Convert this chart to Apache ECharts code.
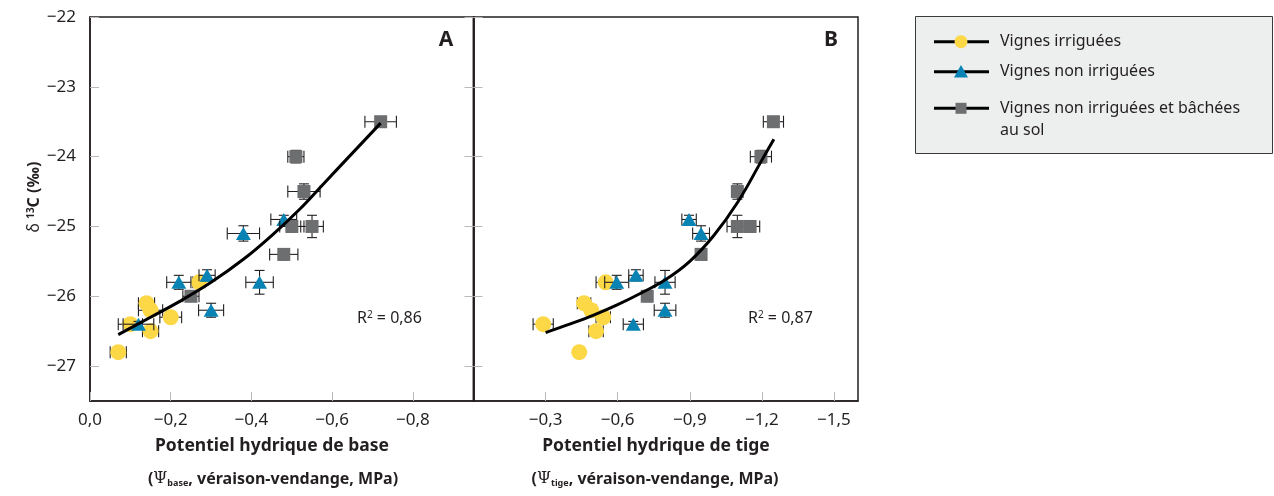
<!DOCTYPE html>
<html><head><meta charset="utf-8">
<script src="https://cdn.jsdelivr.net/npm/echarts@6/dist/echarts.min.js"></script>
<style>html,body{margin:0;padding:0;background:#fff}#c{width:1274px;height:496px}</style>
</head><body><div id="c"></div>
<script>
// ---- tick values ----
const yTicks = [-22, -23, -24, -25, -26, -27];
const xTicksBase = [0, -0.2, -0.4, -0.6, -0.8];
const xTicksTige = [-0.3, -0.6, -0.9, -1.2, -1.5];

// ---- series names ----
const names = ['Vignes irriguées', 'Vignes non irriguées', 'Vignes non irriguées et bâchées au sol'];

// ---- Vignes irriguées ----
const yIrr        = [-26.8, -26.4, -26.1, -26.2, -26.5, -26.3, -25.8];
const yErrIrr     = [0.02, 0.03, 0.05, 0.02, 0.04, 0.02, 0.03];
const xBaseIrr    = [-0.07, -0.10, -0.14, -0.15, -0.15, -0.20, -0.27];
const xErrBaseIrr = [0.02, 0.03, 0.02, 0.03, 0.02, 0.027, 0.015];
const xTigeIrr    = [-0.44, -0.29, -0.46, -0.49, -0.51, -0.54, -0.55];
const xErrTigeIrr = [0.01, 0.042, 0.028, 0.02, 0.03, 0.03, 0.04];

// ---- Vignes non irriguées ----
const yNon        = [-26.4, -25.8, -25.7, -26.2, -25.1, -25.8, -24.9];
const yErrNon     = [0.04, 0.10, 0.08, 0.10, 0.11, 0.17, 0.06];
const xBaseNon    = [-0.12, -0.22, -0.29, -0.30, -0.38, -0.42, -0.48];
const xErrBaseNon = [0.038, 0.03, 0.02, 0.031, 0.04, 0.034, 0.032];
const xTigeNon    = [-0.665, -0.596, -0.676, -0.797, -0.947, -0.797, -0.897];
const xErrTigeNon = [0.042, 0.05, 0.03, 0.045, 0.035, 0.042, 0.03];

// ---- Vignes non irriguées et bâchées ----
const yBac        = [-26.0, -25.4, -25.0, -25.0, -24.5, -24.0, -23.5];
const yErrBac     = [0.04, 0.08, 0.08, 0.16, 0.11, 0.09, 0.05];
const xBaseBac    = [-0.25, -0.48, -0.50, -0.55, -0.53, -0.51, -0.72];
const xErrBaseBac = [0.02, 0.035, 0.03, 0.028, 0.04, 0.02, 0.039];
const xTigeBac    = [-0.723, -0.947, -1.151, -1.098, -1.098, -1.196, -1.248];
const xErrTigeBac = [0.01, 0.02, 0.04, 0.043, 0.02, 0.044, 0.042];

// ---- fitted curves ----
const curveBaseX = [-0.07, -0.15, -0.22, -0.30, -0.38, -0.45, -0.52, -0.58, -0.65, -0.72];
const curveBaseY = [-26.55, -26.30, -26.08, -25.80, -25.47, -25.13, -24.75, -24.38, -23.95, -23.52];
const curveTigeX = [-0.30, -0.40, -0.50, -0.60, -0.70, -0.80, -0.90, -1.00, -1.10, -1.20, -1.25];
const curveTigeY = [-26.52, -26.40, -26.27, -26.12, -25.95, -25.76, -25.50, -25.13, -24.65, -24.05, -23.75];

const r2Base = '0,86', r2Tige = '0,87';

const FONT = "'Noto Sans', sans-serif";
const INK = '#231f20';
const colors = ['#FDD846', '#0983B3', '#6D6E70'];
const symbols = ['circle', 'triangle', 'rect'];
const sizes = [16, [15, 13], 13];

const groups = [
  {y: yIrr, ey: yErrIrr, xb: xBaseIrr, exb: xErrBaseIrr, xt: xTigeIrr, ext: xErrTigeIrr},
  {y: yNon, ey: yErrNon, xb: xBaseNon, exb: xErrBaseNon, xt: xTigeNon, ext: xErrTigeNon},
  {y: yBac, ey: yErrBac, xb: xBaseBac, exb: xErrBaseBac, xt: xTigeBac, ext: xErrTigeBac}
];

function errItem(params, api) {
  const x = api.value(0), y = api.value(1), ex = api.value(2), ey = api.value(3);
  const st = {stroke: INK, lineWidth: 1.1, fill: null};
  const ch = [];
  if (ex > 0) {
    const a = api.coord([x - ex, y]), b = api.coord([x + ex, y]);
    ch.push({type: 'line', shape: {x1: a[0], y1: a[1], x2: b[0], y2: b[1]}, style: st});
    ch.push({type: 'line', shape: {x1: a[0], y1: a[1] - 6, x2: a[0], y2: a[1] + 6}, style: st});
    ch.push({type: 'line', shape: {x1: b[0], y1: b[1] - 6, x2: b[0], y2: b[1] + 6}, style: st});
  }
  if (ey > 0) {
    const a = api.coord([x, y - ey]), b = api.coord([x, y + ey]);
    ch.push({type: 'line', shape: {x1: a[0], y1: a[1], x2: b[0], y2: b[1]}, style: st});
    ch.push({type: 'line', shape: {x1: a[0] - 5, y1: a[1], x2: a[0] + 5, y2: a[1]}, style: st});
    ch.push({type: 'line', shape: {x1: b[0] - 5, y1: b[1], x2: b[0] + 5, y2: b[1]}, style: st});
  }
  return {type: 'group', children: ch};
}

const series = [];
[0, 1].forEach(p => {
  groups.forEach((g, gi) => {
    const xs = p === 0 ? g.xb : g.xt;
    const exs = p === 0 ? g.exb : g.ext;
    series.push({
      type: 'custom', name: names[gi] + ' (err)', xAxisIndex: p, yAxisIndex: p, z: 2 + gi * 2,
      renderItem: errItem, encode: {x: 0, y: 1}, silent: true,
      data: xs.map((x, i) => [x, g.y[i], exs[i], g.ey[i]])
    });
    series.push({
      type: 'scatter', name: names[gi], xAxisIndex: p, yAxisIndex: p, z: 3 + gi * 2,
      symbol: symbols[gi], symbolSize: sizes[gi],
      itemStyle: {color: colors[gi], opacity: 1},
      data: xs.map((x, i) => [x, g.y[i]])
    });
  });
});
series.push({
  type: 'line', name: 'fit base', xAxisIndex: 0, yAxisIndex: 0, z: 10, smooth: 0.4, showSymbol: false,
  lineStyle: {color: '#000', width: 3}, data: curveBaseX.map((x, i) => [x, curveBaseY[i]])
});
series.push({
  type: 'line', name: 'fit tige', xAxisIndex: 1, yAxisIndex: 1, z: 10, smooth: 0.4, showSymbol: false,
  lineStyle: {color: '#000', width: 3}, data: curveTigeX.map((x, i) => [x, curveTigeY[i]])
});

function fmtX(v) {
  if (Math.abs(v) < 1e-9) return '0,0';
  return '\u2212' + Math.abs(v).toFixed(1).replace('.', ',');
}
function fmtY(v) { return '\u2212' + Math.abs(v); }

const tickStyle = {color: '#b8b8b8', width: 1};
const axisLine = {show: true, lineStyle: {color: INK, width: 1.5}};

function xAxis(grid, min, ticks) {
  return {
    type: 'value', gridIndex: grid, min: min, max: 0, inverse: true,
    axisLine: axisLine, splitLine: {show: false},
    axisTick: {show: true, inside: true, length: 9, lineStyle: tickStyle, customValues: ticks},
    axisLabel: {customValues: ticks, formatter: fmtX, fontFamily: FONT, fontSize: 17, color: INK, margin: 11}
  };
}
function yAxis(grid, pos, labels) {
  return {
    type: 'value', gridIndex: grid, position: pos, min: -27.5, max: -22,
    axisLine: axisLine, splitLine: {show: false},
    axisTick: {show: true, inside: true, length: 9, lineStyle: tickStyle, customValues: yTicks},
    axisLabel: {show: labels, customValues: yTicks, formatter: fmtY, fontFamily: FONT, fontSize: 17, color: INK, margin: 14}
  };
}

const graphic = [
  // panel letters
  {type: 'text', x: 446, y: 40, style: {text: 'A', font: 'bold 21px ' + FONT, align: 'center', verticalAlign: 'middle', fill: INK}, z: 20},
  {type: 'text', x: 831, y: 40, style: {text: 'B', font: 'bold 21px ' + FONT, align: 'center', verticalAlign: 'middle', fill: INK}, z: 20},
  // R2
  {type: 'text', x: 357, y: 318, style: {text: 'R{s|2} = ' + r2Base, font: '16px ' + FONT, fill: INK, align: 'left', verticalAlign: 'middle',
    rich: {s: {fontSize: 10, fontFamily: FONT, verticalAlign: 'top', fill: INK}}}, z: 20},
  {type: 'text', x: 748, y: 318, style: {text: 'R{s|2} = ' + r2Tige, font: '16px ' + FONT, fill: INK, align: 'left', verticalAlign: 'middle',
    rich: {s: {fontSize: 10, fontFamily: FONT, verticalAlign: 'top', fill: INK}}}, z: 20},
  // x axis titles
  {type: 'text', x: 272, y: 446, style: {text: 'Potentiel hydrique de base', font: 'bold 17.5px ' + FONT, fill: INK, align: 'center', verticalAlign: 'middle'}},
  {type: 'text', x: 273, y: 479, style: {text: '{n|(}{p|\u03A8}{s|base}{n|, véraison-vendange, MPa)}', align: 'center', verticalAlign: 'middle',
    rich: {n: {font: 'bold 16px ' + FONT, fill: INK}, p: {font: '16px DejaVu Serif', fill: INK}, s: {font: 'bold 9px ' + FONT, fill: INK, verticalAlign: 'bottom', padding: [8, 0, 0, 0]}}}},
  {type: 'text', x: 656, y: 446, style: {text: 'Potentiel hydrique de tige', font: 'bold 17.5px ' + FONT, fill: INK, align: 'center', verticalAlign: 'middle'}},
  {type: 'text', x: 655, y: 479, style: {text: '{n|(}{p|\u03A8}{s|tige}{n|, véraison-vendange, MPa)}', align: 'center', verticalAlign: 'middle',
    rich: {n: {font: 'bold 16px ' + FONT, fill: INK}, p: {font: '16px DejaVu Serif', fill: INK}, s: {font: 'bold 9px ' + FONT, fill: INK, verticalAlign: 'bottom', padding: [8, 0, 0, 0]}}}},
  // y axis title
  {type: 'text', x: 34, y: 197, rotation: Math.PI / 2, style: {text: '{d|\u03B4 }{s|13}{b|C (\u2030)}', align: 'center', verticalAlign: 'middle',
    rich: {d: {font: '16px ' + FONT, fill: INK}, s: {font: 'bold 10px ' + FONT, fill: INK, verticalAlign: 'top'}, b: {font: 'bold 16px ' + FONT, fill: INK}}}},
  // legend box
  {type: 'rect', shape: {x: 915.5, y: 16.5, width: 357, height: 137}, style: {fill: '#EDEEEE', stroke: '#3a3a3a', lineWidth: 1}, z: 1},
  {type: 'line', shape: {x1: 934, y1: 41.7, x2: 989, y2: 41.7}, style: {stroke: '#000', lineWidth: 3}, z: 2},
  {type: 'circle', shape: {cx: 961, cy: 41.7, r: 6.5}, style: {fill: colors[0]}, z: 3},
  {type: 'line', shape: {x1: 934, y1: 71.7, x2: 989, y2: 71.7}, style: {stroke: '#000', lineWidth: 3}, z: 2},
  {type: 'polygon', shape: {points: [[961, 65], [968, 77.5], [954, 77.5]]}, style: {fill: colors[1]}, z: 3},
  {type: 'line', shape: {x1: 934, y1: 108.3, x2: 989, y2: 108.3}, style: {stroke: '#000', lineWidth: 3}, z: 2},
  {type: 'rect', shape: {x: 955.5, y: 102.8, width: 11, height: 11}, style: {fill: colors[2]}, z: 3},
  {type: 'text', x: 1000, y: 41.7, style: {text: names[0], font: '16px ' + FONT, fill: INK, verticalAlign: 'middle'}, z: 3},
  {type: 'text', x: 1000, y: 71.7, style: {text: names[1], font: '16px ' + FONT, fill: INK, verticalAlign: 'middle'}, z: 3},
  {type: 'text', x: 1000, y: 97.3, style: {text: 'Vignes non irriguées et bâchées\nau sol', font: '16px ' + FONT, fill: INK, verticalAlign: 'top', lineHeight: 22}, z: 3}
];

const chart = echarts.init(document.getElementById('c'), null, {renderer: 'canvas'});
chart.setOption({
  animation: false,
  backgroundColor: '#fff',
  grid: [
    {left: 90, top: 17, width: 383.5, height: 384, show: true, borderColor: INK, borderWidth: 1.5, backgroundColor: 'transparent'},
    {left: 473.5, top: 17, width: 384.5, height: 384, show: true, borderColor: INK, borderWidth: 1.5, backgroundColor: 'transparent'}
  ],
  xAxis: [xAxis(0, -0.95, xTicksBase), xAxis(1, -1.6, xTicksTige)],
  yAxis: [yAxis(0, 'left', true), yAxis(1, 'left', false), yAxis(0, 'right', false)],
  series: series,
  graphic: graphic
});
</script></body></html>
